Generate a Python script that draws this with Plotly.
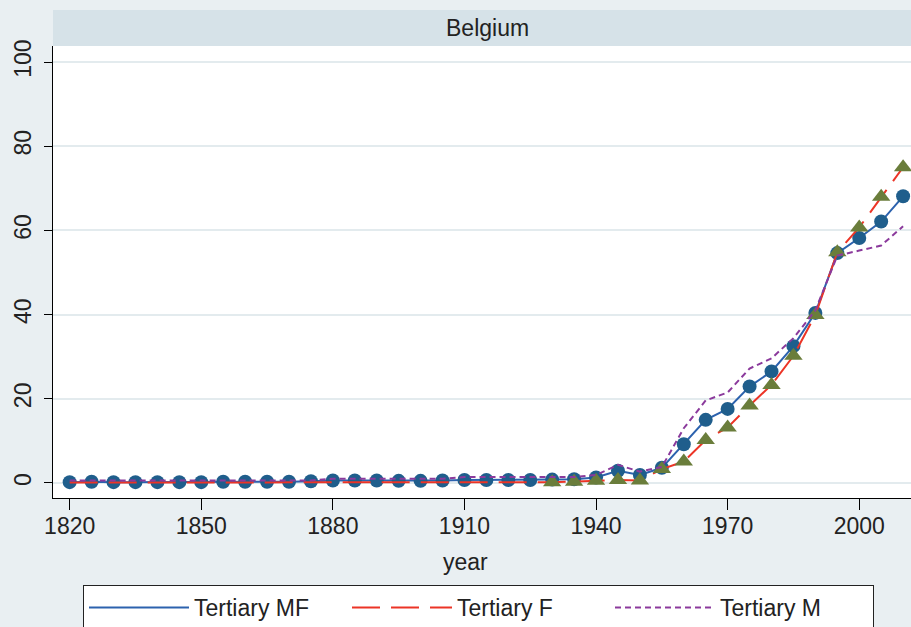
import plotly.graph_objects as go

# ---------------- data ----------------
years = list(range(1820, 2011, 5))
tertiary_mf = [0.2, 0.3, 0.2, 0.2, 0.2, 0.2, 0.2, 0.3, 0.3, 0.3, 0.3, 0.4,
               0.6, 0.6, 0.6, 0.5, 0.5, 0.6, 0.7, 0.7, 0.7, 0.7, 0.8, 0.9,
               1.3, 2.9, 1.9, 3.6, 9.2, 15.0, 17.6, 22.9, 26.5, 32.5, 40.4,
               54.6, 58.2, 62.1, 68.1]
tertiary_f = [0.1] * 22 + [0.2, 0.3, 0.5, 0.7, 0.6, 3.3, 5.1, 10.2, 13.2,
                           18.4, 23.3, 30.2, 39.9, 54.8, 60.7, 68.0, 75.0]
tertiary_m = [0.6] * 12 + [1.0] * 6 + [1.4] * 6 + [1.9, 4.3, 2.7, 3.8, 13.0,
                                                  19.6, 21.5, 27.2, 29.6, 34.4,
                                                  41.0, 54.0, 55.2, 56.4, 61.0]
f_marker_start = 1930
x_ticks = [1820, 1850, 1880, 1910, 1940, 1970, 2000]
y_ticks = [0, 20, 40, 60, 80, 100]
panel_title = "Belgium"
x_title = "year"

# ---------------- styles ----------------
FONT = "Liberation Sans, Arial, Helvetica, sans-serif"
TXT = "#222222"
OUTER_BG = "#e9eff2"
STRIP_BG = "#d6e2e8"
GRID = "#e3ebee"
MF_LINE = "#2c62ae"
MF_MARK = "#1f5e8c"
F_LINE = "#ec3426"
F_MARK = "#6a7d3b"
M_LINE = "#8b3a9c"

fig = go.Figure()

fig.add_trace(go.Scatter(x=years, y=tertiary_mf, mode="lines", name="Tertiary MF",
                         line=dict(color=MF_LINE, width=2)))
fig.add_trace(go.Scatter(x=years, y=tertiary_mf, mode="markers", showlegend=False,
                         marker=dict(symbol="circle", size=14, color=MF_MARK,
                                     line=dict(width=0))))
fig.add_trace(go.Scatter(x=years, y=tertiary_f, mode="lines", name="Tertiary F",
                         line=dict(color=F_LINE, width=2, dash="28px,11px")))
fx = [y for y in years if y >= f_marker_start]
fy = [v for y, v in zip(years, tertiary_f) if y >= f_marker_start]
fig.add_trace(go.Scatter(x=fx, y=fy, mode="markers", showlegend=False,
                         marker=dict(symbol="triangle-up", size=16, color=F_MARK,
                                     line=dict(width=0))))
fig.add_trace(go.Scatter(x=years, y=tertiary_m, mode="lines", name="Tertiary M",
                         line=dict(color=M_LINE, width=2, dash="6px,4px")))

W, H = 911, 627
L, R, T, B = 53, 0, 46, 129
pw = W - L - R
ph = H - T - B

fig.update_layout(
    width=W, height=H,
    margin=dict(l=L, r=R, t=T, b=B, autoexpand=False),
    paper_bgcolor=OUTER_BG,
    plot_bgcolor="white",
    font=dict(family=FONT, size=23, color=TXT),
    showlegend=True,
    legend=dict(orientation="h", xref="container", yref="container",
                x=83 / W, y=1 - 585 / H, xanchor="left", yanchor="top",
                bgcolor="white", bordercolor="#222222", borderwidth=1,
                font=dict(family=FONT, size=23, color=TXT),
                itemwidth=100, entrywidth=148, entrywidthmode="pixels",
                tracegroupgap=0),
    xaxis=dict(range=[1816.2, 2011.8], tickvals=x_ticks, ticks="outside",
               ticklen=11, tickwidth=1, tickcolor="black", showline=True,
               linecolor="black", linewidth=1, showgrid=False, zeroline=False,
               ticklabelstandoff=-4,
               tickfont=dict(size=23, color=TXT)),
    yaxis=dict(range=[-3.57, 103.8], tickvals=y_ticks, ticks="outside",
               ticklen=8, tickwidth=1, tickcolor="black", showline=True,
               linecolor="black", linewidth=1, showgrid=True, gridcolor=GRID,
               gridwidth=2, zeroline=False, tickangle=-90, ticklabelstandoff=4,
               tickfont=dict(size=23, color=TXT)),
    shapes=[dict(type="rect", xref="paper", yref="paper", x0=0, x1=1,
                 y0=1, y1=1 + 36 / ph, fillcolor=STRIP_BG, line=dict(width=0),
                 layer="below")],
    annotations=[
        dict(text=panel_title, xref="paper", yref="paper",
             x=(487.5 - L) / pw, y=1 + 18 / ph, xanchor="center", yanchor="middle",
             showarrow=False, font=dict(family=FONT, size=23, color=TXT)),
        dict(text=x_title, xref="paper", yref="paper",
             x=(465 - L) / pw, y=-(562 - (T + ph)) / ph, xanchor="center",
             yanchor="middle", showarrow=False,
             font=dict(family=FONT, size=23, color=TXT)),
    ],
)

fig.write_html("out.html", config={"displayModeBar": False},
               post_script="document.body.style.margin='0';")
